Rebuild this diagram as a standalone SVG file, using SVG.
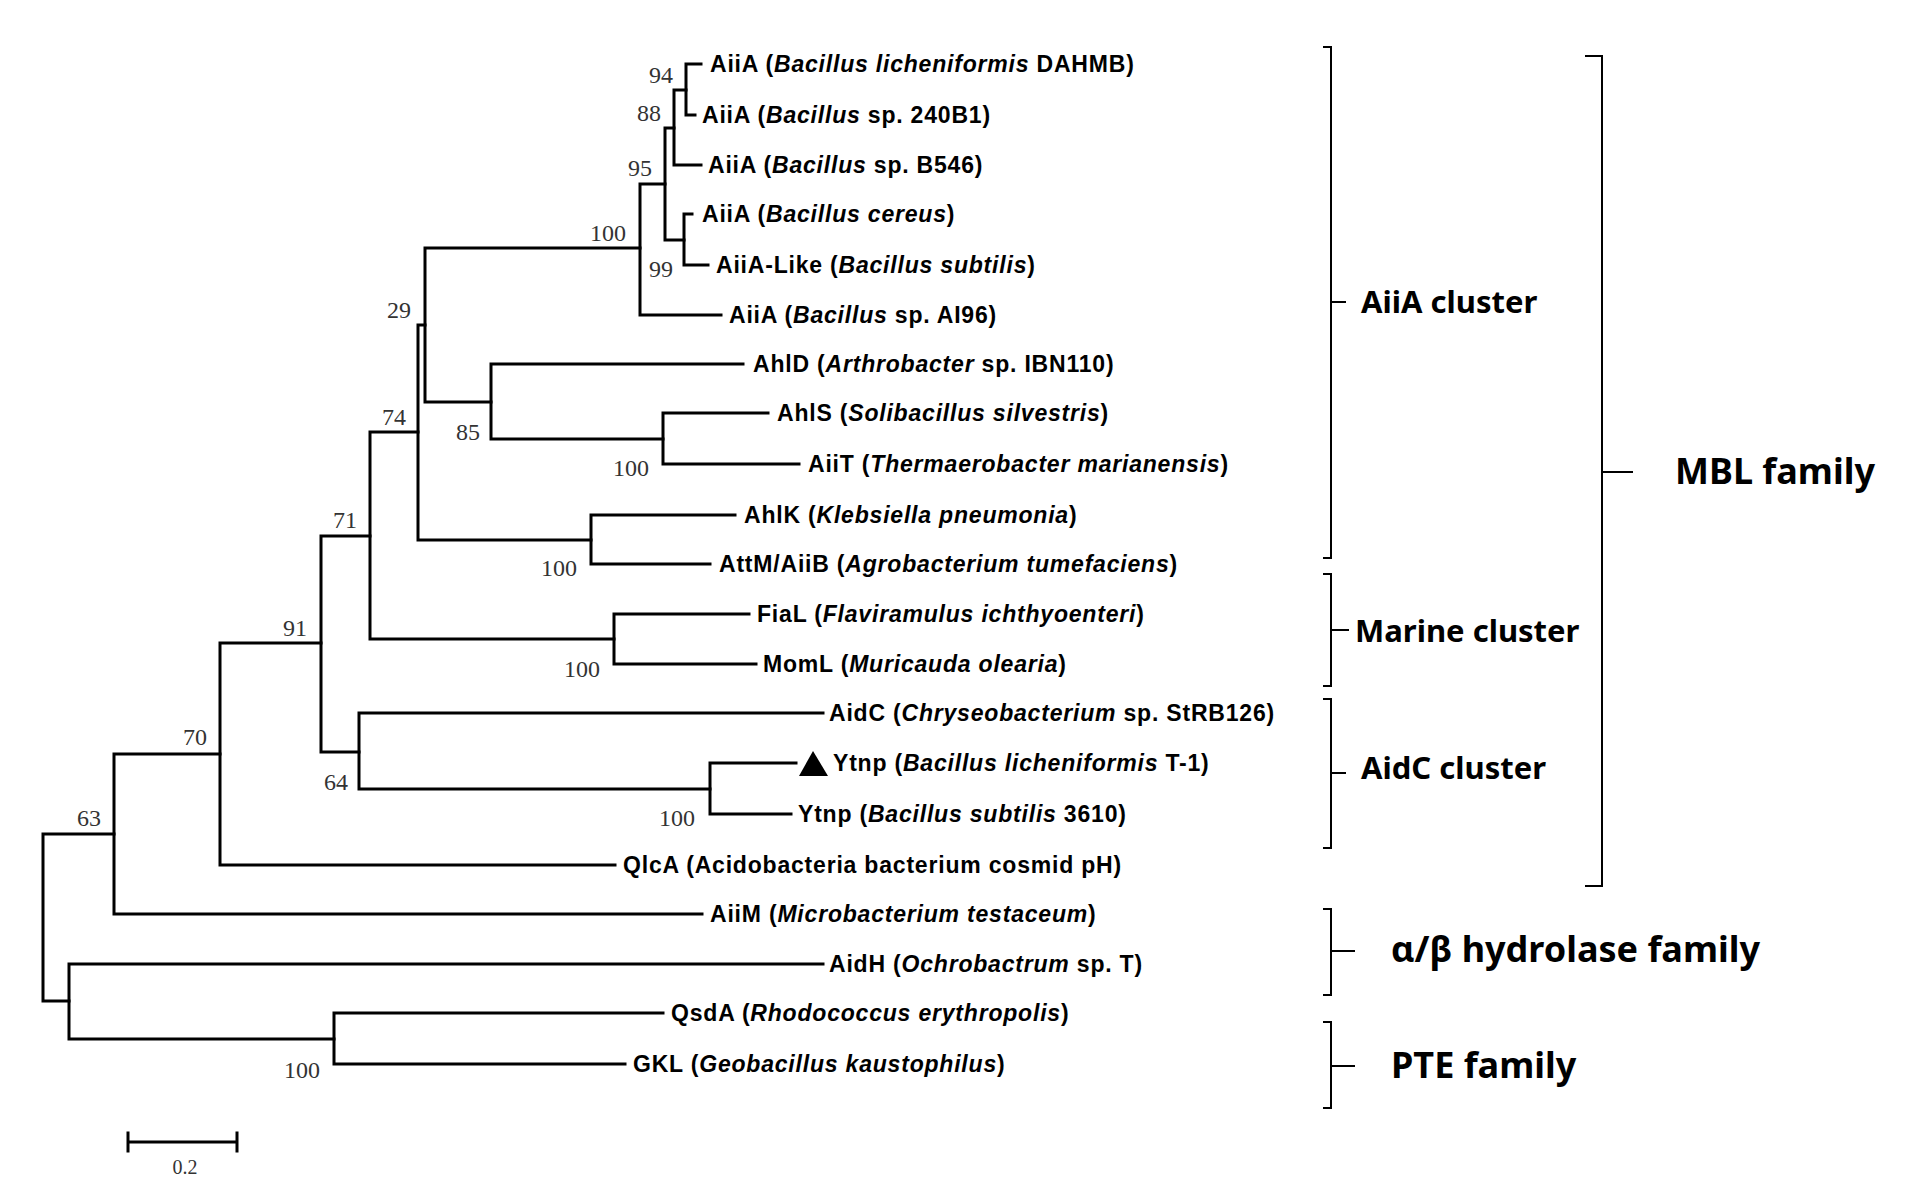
<svg xmlns="http://www.w3.org/2000/svg" width="1908" height="1192" viewBox="0 0 1908 1192">
<style>
.t{fill:none;stroke:#000;stroke-width:3;stroke-linecap:square}
.b{fill:none;stroke:#000;stroke-width:2}
.lf{font-family:"Liberation Sans",Arial,sans-serif;font-weight:bold;font-size:23px;letter-spacing:0.8px;fill:#000}
.lf tspan.i{font-style:italic}
.bs{font-family:"Liberation Serif","Times New Roman",serif;font-size:24px;fill:#333;text-anchor:end}
.cl{font-family:"Noto Sans","Open Sans",sans-serif;font-weight:bold;font-size:31px;fill:#000}
.fm{font-family:"Noto Sans","Open Sans",sans-serif;font-weight:bold;font-size:36px;fill:#000}
</style>
<rect width="1908" height="1192" fill="#fff"/>
<g id="connectors">
<path class="t" d="M686,64V115M686,64H701M686,115H695"/>
<path class="t" d="M674,90V165M674,90H686M674,165H701"/>
<path class="t" d="M684,214V265M684,214H692M684,265H708"/>
<path class="t" d="M665,128V240M665,128H674M665,240H684"/>
<path class="t" d="M640,184V315M640,184H665M640,315H721"/>
<path class="t" d="M663,413V464M663,413H768M663,464H799"/>
<path class="t" d="M491,364V439M491,364H743M491,439H663"/>
<path class="t" d="M425,248V402M425,248H640M425,402H491"/>
<path class="t" d="M591,515V564M591,515H735M591,564H710"/>
<path class="t" d="M418,325V540M418,325H425M418,540H591"/>
<path class="t" d="M614,614V664M614,614H749M614,664H756"/>
<path class="t" d="M370,432V639M370,432H418M370,639H614"/>
<path class="t" d="M710,763V814M710,763H796M710,814H791"/>
<path class="t" d="M359,713V789M359,713H823M359,789H710"/>
<path class="t" d="M321,536V752M321,536H370M321,752H359"/>
<path class="t" d="M220,643V865M220,643H321M220,865H615"/>
<path class="t" d="M114,754V914M114,754H220M114,914H702"/>
<path class="t" d="M334,1013V1064M334,1013H663M334,1064H625"/>
<path class="t" d="M69,964V1039M69,964H823M69,1039H334"/>
<path class="t" d="M43,834V1001M43,834H114M43,1001H69"/>
</g>
<g id="bootstrap">
<text class="bs" x="673" y="83">94</text>
<text class="bs" x="661" y="121">88</text>
<text class="bs" x="652" y="176">95</text>
<text class="bs" x="626" y="241">100</text>
<text class="bs" x="673" y="277">99</text>
<text class="bs" x="411" y="318">29</text>
<text class="bs" x="406" y="425">74</text>
<text class="bs" x="480" y="440">85</text>
<text class="bs" x="649" y="476">100</text>
<text class="bs" x="357" y="528">71</text>
<text class="bs" x="577" y="576">100</text>
<text class="bs" x="307" y="636">91</text>
<text class="bs" x="600" y="677">100</text>
<text class="bs" x="207" y="745">70</text>
<text class="bs" x="348" y="790">64</text>
<text class="bs" x="695" y="826">100</text>
<text class="bs" x="101" y="826">63</text>
<text class="bs" x="320" y="1078">100</text>
</g>
<g id="leaves">
<text class="lf" x="710" y="72">AiiA (<tspan class="i">Bacillus licheniformis</tspan> DAHMB)</text>
<text class="lf" x="702" y="123">AiiA (<tspan class="i">Bacillus</tspan> sp. 240B1)</text>
<text class="lf" x="708" y="173">AiiA (<tspan class="i">Bacillus</tspan> sp. B546)</text>
<text class="lf" x="702" y="222">AiiA (<tspan class="i">Bacillus cereus</tspan>)</text>
<text class="lf" x="716" y="273">AiiA-Like (<tspan class="i">Bacillus subtilis</tspan>)</text>
<text class="lf" x="729" y="323">AiiA (<tspan class="i">Bacillus</tspan> sp. AI96)</text>
<text class="lf" x="753" y="372">AhlD (<tspan class="i">Arthrobacter</tspan> sp. IBN110)</text>
<text class="lf" x="777" y="421">AhlS (<tspan class="i">Solibacillus silvestris</tspan>)</text>
<text class="lf" x="808" y="472">AiiT (<tspan class="i">Thermaerobacter marianensis</tspan>)</text>
<text class="lf" x="744" y="523">AhlK (<tspan class="i">Klebsiella pneumonia</tspan>)</text>
<text class="lf" x="719" y="572">AttM/AiiB (<tspan class="i">Agrobacterium tumefaciens</tspan>)</text>
<text class="lf" x="757" y="622">FiaL (<tspan class="i">Flaviramulus ichthyoenteri</tspan>)</text>
<text class="lf" x="763" y="672">MomL (<tspan class="i">Muricauda olearia</tspan>)</text>
<text class="lf" x="829" y="721">AidC (<tspan class="i">Chryseobacterium</tspan> sp. StRB126)</text>
<polygon points="799,776 813,751 828,776" fill="#000"/>
<text class="lf" x="833" y="771">Ytnp (<tspan class="i">Bacillus licheniformis</tspan> T-1)</text>
<text class="lf" x="798" y="822">Ytnp (<tspan class="i">Bacillus subtilis</tspan> 3610)</text>
<text class="lf" x="623" y="873">QlcA (Acidobacteria bacterium cosmid pH)</text>
<text class="lf" x="710" y="922">AiiM (<tspan class="i">Microbacterium testaceum</tspan>)</text>
<text class="lf" x="829" y="972">AidH (<tspan class="i">Ochrobactrum</tspan> sp. T)</text>
<text class="lf" x="671" y="1021">QsdA (<tspan class="i">Rhodococcus erythropolis</tspan>)</text>
<text class="lf" x="633" y="1072">GKL (<tspan class="i">Geobacillus kaustophilus</tspan>)</text>
</g>
<g id="scale">
<path class="t" d="M128,1142H237M128,1133V1151M237,1133V1151"/>
<text x="185" y="1174" font-family="Liberation Serif,serif" font-size="20" fill="#333" text-anchor="middle">0.2</text>
</g>
<g id="aiia-cluster"><path class="b" d="M1323,47H1331V558H1323M1331,302H1346"/><text class="cl" x="1361" y="313">AiiA cluster</text></g>
<g id="marine-cluster"><path class="b" d="M1323,574H1331V686H1323M1331,630H1349"/><text class="cl" x="1355" y="642">Marine cluster</text></g>
<g id="aidc-cluster"><path class="b" d="M1323,699H1331V848H1323M1331,773H1346"/><text class="cl" x="1361" y="779">AidC cluster</text></g>
<g id="mbl-family"><path class="b" d="M1585,56H1602V886H1585M1602,472H1633"/><text class="fm" x="1675" y="484">MBL family</text></g>
<g id="ab-family"><path class="b" d="M1323,909H1331V995H1323M1331,951H1355"/><text class="fm" x="1391" y="962">α/β hydrolase family</text></g>
<g id="pte-family"><path class="b" d="M1323,1022H1331V1108H1323M1331,1066H1355"/><text class="fm" x="1391" y="1078">PTE family</text></g>
</svg>
